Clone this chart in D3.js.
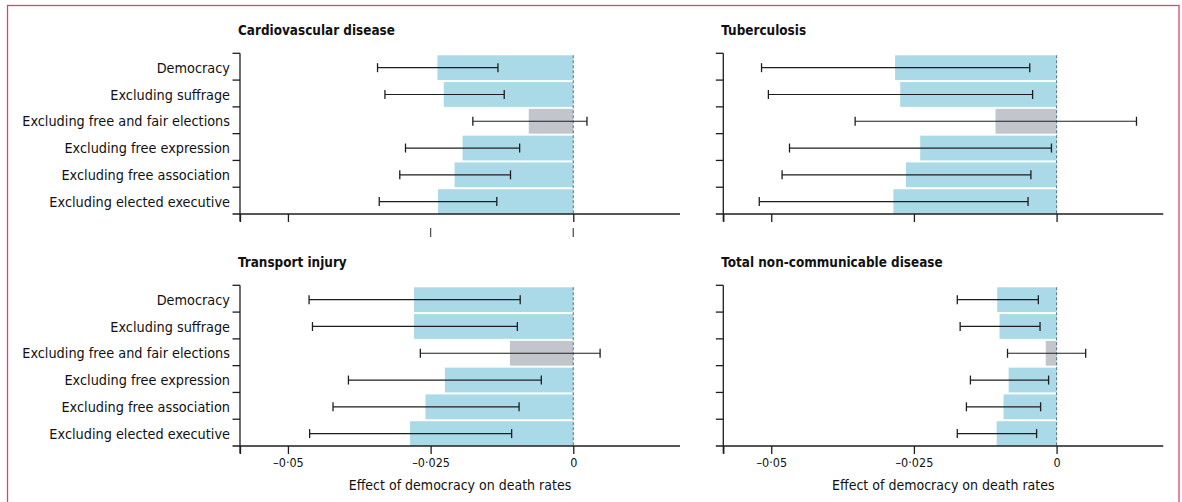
<!DOCTYPE html>
<html><head><meta charset="utf-8">
<script src="https://cdn.jsdelivr.net/npm/d3@7/dist/d3.min.js"></script>
<style>
html,body{margin:0;padding:0;background:#fff;}
svg{display:block;}
</style></head>
<body>
<svg id="chart" width="1182" height="502"></svg>
<script>
// ---------- data ----------
const categories = ["Democracy","Excluding suffrage","Excluding free and fair elections","Excluding free expression","Excluding free association","Excluding elected executive"];
const panelTitles = ["Cardiovascular disease","Tuberculosis","Transport injury","Total non-communicable disease"];

const cvdEst = [-0.0238,-0.0227,-0.0078,-0.0194,-0.0208,-0.0237];
const cvdLo  = [-0.0343,-0.0330,-0.0176,-0.0294,-0.0304,-0.0340];
const cvdHi  = [-0.0132,-0.0121, 0.0024,-0.0094,-0.0110,-0.0134];

const tbEst = [-0.0283,-0.0274,-0.0107,-0.0239,-0.0264,-0.0286];
const tbLo  = [-0.0517,-0.0505,-0.0353,-0.0468,-0.0481,-0.0521];
const tbHi  = [-0.0047,-0.0042, 0.0140,-0.0009,-0.0045,-0.0050];

const trEst = [-0.0279,-0.0279,-0.0111,-0.0225,-0.0259,-0.0286];
const trLo  = [-0.0463,-0.0457,-0.0268,-0.0394,-0.0421,-0.0462];
const trHi  = [-0.0093,-0.0098, 0.0047,-0.0056,-0.0095,-0.0108];

const ncdEst = [-0.0104,-0.0100,-0.0019,-0.0084,-0.0093,-0.0105];
const ncdLo  = [-0.0174,-0.0169,-0.0086,-0.0151,-0.0158,-0.0174];
const ncdHi  = [-0.0032,-0.0029, 0.0051,-0.0014,-0.0028,-0.0035];

const xDomain = [-0.0584, 0.0187];
const xTickValues = [-0.05, -0.025, 0];
const xTickLabels = ["\u20130\u00b705", "\u20130\u00b7025", "0"];
const axisTitle = "Effect of democracy on death rates";

// ---------- font choice ----------
function hasFont(name){
  const c = document.createElement('canvas').getContext('2d');
  const t = 'Excluding free and fair elections 0123 WMmi';
  c.font = '40px monospace'; const w1 = c.measureText(t).width;
  c.font = `40px "${name}", monospace`; const w2 = c.measureText(t).width;
  return Math.abs(w1 - w2) > 0.5;
}
const candidates = ["Liberation Sans Narrow","DejaVu Sans Condensed","Arial Narrow","Liberation Sans"];
let FONT = "Liberation Sans";
for (const f of candidates){ if (hasFont(f)) { FONT = f; break; } }
const FAM = `"${FONT}", "Liberation Sans", Arial, sans-serif`;
function fitSize(text, target, weight){
  const c = document.createElement('canvas').getContext('2d');
  c.font = `${weight||'normal'} 100px ${FAM}`;
  return 100 * target / c.measureText(text).width;
}
const labelSize = Math.min(14.5, fitSize(categories[2], 208));
const titleSize = Math.min(14.5, fitSize(panelTitles[0], 157, 'bold'));
const axisTitleSize = Math.min(14, fitSize(axisTitle, 227));
const tickSize = 12.5;

// ---------- layout ----------
const svg = d3.select("#chart");
svg.append("rect").attr("x",7.5).attr("y",5.5).attr("width",1171.5).attr("height",520)
   .attr("fill","none").attr("stroke","#d9466f").attr("stroke-width",1.3);

const W = 440, H = 160.7;
const panels = [
  {title:panelTitles[0], est:cvdEst, lo:cvdLo, hi:cvdHi, x:240,   y:53.3,  labels:true,  bottom:false, odd:true},
  {title:panelTitles[1], est:tbEst,  lo:tbLo,  hi:tbHi,  x:723.3, y:53.3,  labels:false, bottom:false, odd:false},
  {title:panelTitles[2], est:trEst,  lo:trLo,  hi:trHi,  x:240,   y:285.3, labels:true,  bottom:true,  odd:false},
  {title:panelTitles[3], est:ncdEst, lo:ncdLo, hi:ncdHi, x:723.3, y:285.3, labels:false, bottom:true,  odd:false}
];

const blue = "#aad9e8", grey = "#c2c5cb", ink = "#1e1e1e";

panels.forEach(p => {
  const g = svg.append("g").attr("transform",`translate(${p.x},${p.y})`);
  const x = d3.scaleLinear().domain(xDomain).range([0, W]);
  const y = d3.scaleBand().domain(categories).range([0, H]);
  const bw = y.bandwidth();
  const rows = categories.map((c,i)=>({c, est:p.est[i], lo:p.lo[i], hi:p.hi[i]}));

  // title
  g.append("text").attr("x",-2).attr("y",-18.3)
    .attr("font-family",FAM).attr("font-weight","bold").attr("font-size",titleSize)
    .attr("fill","#111").text(p.title);

  // bars
  g.selectAll("rect.bar").data(rows).join("rect").attr("class","bar")
    .attr("x", d => x(Math.min(0,d.est)))
    .attr("width", d => Math.abs(x(d.est) - x(0)))
    .attr("y", d => y(d.c) + 2)
    .attr("height", bw - 2)
    .attr("fill", d => (d.lo < 0 && d.hi > 0) ? grey : blue);

  // zero dashed line
  g.append("line").attr("x1",x(0)).attr("x2",x(0)).attr("y1",y(categories[0])+2).attr("y2",H)
    .attr("stroke","#5d7c8e").attr("stroke-width",1.1).attr("stroke-dasharray","3,2");

  // error bars
  const eb = g.selectAll("g.eb").data(rows).join("g").attr("class","eb")
    .attr("transform", d => `translate(0,${y(d.c) + 2 + (bw-2)/2})`);
  eb.append("line").attr("x1",d=>x(d.lo)).attr("x2",d=>x(d.hi)).attr("y1",0).attr("y2",0)
    .attr("stroke",ink).attr("stroke-width",1.2);
  eb.append("line").attr("x1",d=>x(d.lo)).attr("x2",d=>x(d.lo)).attr("y1",-4.5).attr("y2",4.5)
    .attr("stroke",ink).attr("stroke-width",1.3);
  eb.append("line").attr("x1",d=>x(d.hi)).attr("x2",d=>x(d.hi)).attr("y1",-4.5).attr("y2",4.5)
    .attr("stroke",ink).attr("stroke-width",1.3);

  // y axis with ticks at band boundaries
  g.append("line").attr("x1",0).attr("x2",0).attr("y1",y(categories[0])).attr("y2",H+7.5)
    .attr("stroke",ink).attr("stroke-width",1.3);
  g.selectAll("line.ytick").data(categories).join("line").attr("class","ytick")
    .attr("x1",-7.5).attr("x2",0).attr("y1",d=>y(d)).attr("y2",d=>y(d))
    .attr("stroke",ink).attr("stroke-width",1.3);

  if (p.labels){
    g.selectAll("text.lab").data(categories).join("text").attr("class","lab")
      .attr("x",-10).attr("y",d=>y(d)+2+(bw-2)/2).attr("dy","0.36em")
      .attr("text-anchor","end").attr("font-family",FAM).attr("font-size",labelSize)
      .attr("fill","#111").text(d=>d);
  }

  // x axis
  const tv = p.odd ? [xDomain[0], xTickValues[0], xTickValues[2]] : [xDomain[0], ...xTickValues];
  const ax = d3.axisBottom(x).tickValues(tv).tickSize(8).tickSizeOuter(0)
    .tickFormat(d => { const i = xTickValues.indexOf(d); return (p.bottom && i>=0) ? xTickLabels[i] : ""; });
  const axg = g.append("g").attr("transform",`translate(0,${H})`).call(ax);
  axg.select(".domain").attr("stroke",ink).attr("stroke-width",1.3).attr("d",`M${x(xDomain[0])-7.5},0H${W}`);
  axg.selectAll(".tick line").attr("stroke",ink).attr("stroke-width",1.3);
  axg.selectAll(".tick text").attr("font-family",FAM).attr("font-size",tickSize)
    .attr("fill","#111").attr("y",12).attr("dy","0.71em");
  axg.attr("font-family",null).attr("font-size",null);

  if (p.odd){
    g.selectAll("line.oddtick").data([xTickValues[1], xTickValues[2]]).join("line").attr("class","oddtick")
      .attr("x1",d=>x(d)).attr("x2",d=>x(d)).attr("y1",H+14).attr("y2",H+23)
      .attr("stroke","#555").attr("stroke-width",1.3);
  }

  if (p.bottom){
    g.append("text").attr("x",W/2).attr("y",H+44).attr("text-anchor","middle")
      .attr("font-family",FAM).attr("font-size",axisTitleSize).attr("fill","#111").text(axisTitle);
  }
});
</script>
</body></html>
